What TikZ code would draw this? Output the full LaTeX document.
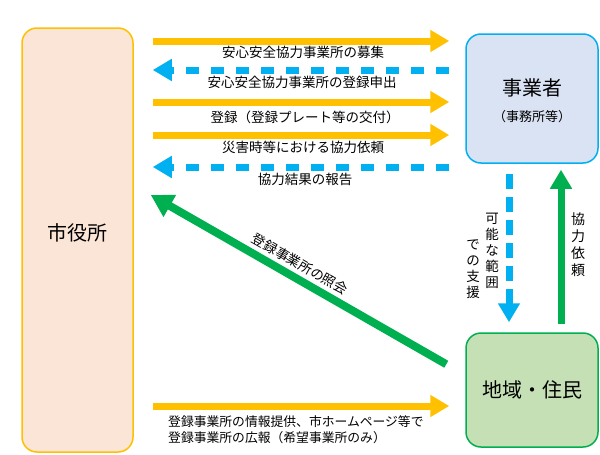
\documentclass[tikz,border=0pt]{standalone}
\usepackage{fontspec}
\setmainfont{Noto Sans CJK JP}
\usetikzlibrary{arrows.meta,calc}
\definecolor{corange}{HTML}{FFC000}
\definecolor{cblue}{HTML}{00B0F0}
\definecolor{cgreen}{HTML}{00B050}
\definecolor{cityfill}{HTML}{FBE5D6}
\definecolor{bizfill}{HTML}{DAE3F3}
\definecolor{locfill}{HTML}{C5E0B4}
\tikzset{
  box/.style={draw, line width=1.5pt, rounded corners=15pt, inner sep=0pt},
  arr/.style={line width=7pt, -{Triangle[length=19pt,width=21pt]}},
  oarrow/.style={arr, draw=corange},
  barrow/.style={arr, draw=cblue, dash pattern=on 13pt off 12pt},
  garrow/.style={arr, draw=cgreen},
  lbl/.style={font=\fontsize{13.5}{16}\selectfont, inner sep=0pt},
  vlbl/.style={font=\fontsize{13.5}{16}\selectfont, inner sep=0pt, align=center, anchor=north},
  big/.style={font=\fontsize{20}{24}\selectfont}
}
\begin{document}
\begin{tikzpicture}[x=1pt,y=-1pt]
\useasboundingbox (0,0) rectangle (600,455);
\node[box, draw=corange, fill=cityfill, minimum width=111pt, minimum height=424pt] (city) at (77.5,240) {};
\node[big] (citylbl) at (77.5,233) {市役所};
\node[box, draw=cblue, fill=bizfill, minimum width=132pt, minimum height=129pt] (biz) at (532,98.5) {};
\node[big] (bizlbl) at (532,88) {事業者};
\node[font=\fontsize{13}{16}\selectfont] (bizsub) at (532,117) {（事務所等）};
\node[box, draw=cgreen, fill=locfill, minimum width=132pt, minimum height=114pt] (loc) at (532,390) {};
\node[big] (loclbl) at (532,390) {地域・住民};

% horizontal arrows
\draw[oarrow] ($(city.east|-0,41)+(19,0)$) -- ($(biz.west|-0,41)+(-16,0)$);
\node[lbl] (t1) at (303,52) {安心安全協力事業所の募集};
\draw[barrow] ($(biz.west|-0,70)+(-16,0)$) -- ($(city.east|-0,70)+(19,0)$);
\node[lbl] (t2) at (302,82) {安心安全協力事業所の登録申出};
\draw[oarrow] ($(city.east|-0,102)+(19,0)$) -- ($(biz.west|-0,102)+(-16,0)$);
\node[lbl] (t3) at (305,117) {登録（登録プレート等の交付）};
\draw[oarrow] ($(city.east|-0,135)+(19,0)$) -- ($(biz.west|-0,135)+(-16,0)$);
\node[lbl] (t4) at (303,147) {災害時等における協力依頼};
\draw[barrow] ($(biz.west|-0,167)+(-16,0)$) -- ($(city.east|-0,167)+(19,0)$);
\node[lbl] (t5) at (305,179) {協力結果の報告};

% diagonal
\draw[garrow, line width=8pt, -{Triangle[length=22pt,width=24pt]}] ($(loc.north west)+(-19,32)$) -- ($(city.east)+(17,-45)$);
\node[lbl, rotate=-29.8] (t6) at (300,264) {登録事業所の照会};

% vertical
\draw[barrow, dash pattern=on 15pt off 8pt] ($(biz.south)+(-23,10)$) -- ($(loc.north)+(-23,-10)$);
\node[vlbl] (v1) at (492,213) {可\\能\\な\\範\\囲};
\node[vlbl] (v2) at (473,240) {で\\の\\支\\援};
\draw[garrow] ($(loc.north)+(29,-8)$) -- ($(biz.south)+(29,6)$);
\node[vlbl, font=\fontsize{14}{17}\selectfont] (v3) at (578,213) {協\\力\\依\\頼};

% bottom
\draw[oarrow] ($(city.east|-0,406)+(19,0)$) -- ($(loc.west|-0,406)+(-16,0)$);
\node[lbl, font=\fontsize{12.8}{16.5}\selectfont, align=left, anchor=north west] (t7) at (168,415) {登録事業所の情報提供、市ホームページ等で\\登録事業所の広報（希望事業所のみ）};
\end{tikzpicture}
\end{document}
